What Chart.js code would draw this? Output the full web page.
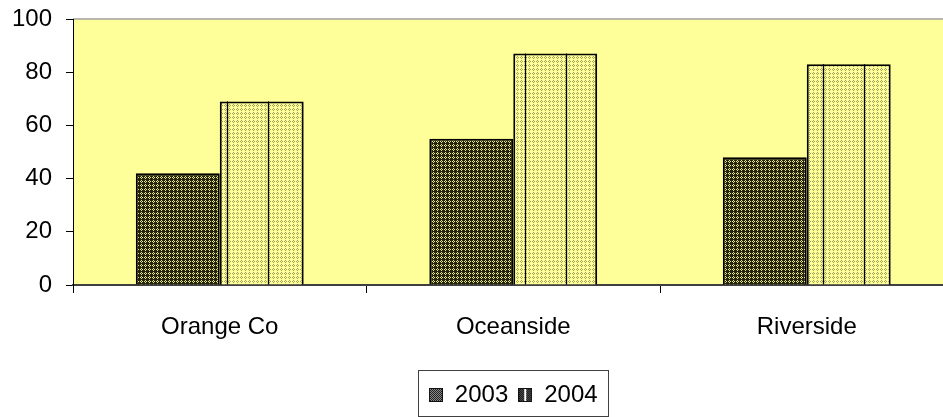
<!DOCTYPE html>
<html>
<head>
<meta charset="utf-8">
<script src="https://cdn.jsdelivr.net/npm/chart.js@4/dist/chart.umd.min.js"></script>
<style>
  html, body { margin: 0; padding: 0; background: #fff; overflow: hidden; width: 943px; height: 417px; }
  #wrap { width: 955px; height: 417px; }
</style>
</head>
<body>
<div id="wrap"><canvas id="c" width="955" height="417"></canvas></div>
<script>
// Categories and values per year
const sites = ['Orange Co', 'Oceanside', 'Riverside'];
const values2003 = [42, 55, 48];
const values2004 = [69, 87, 83];
const seriesNames = ['2003', '2004'];
const yTickValues = [0, 20, 40, 60, 80, 100];

// Styling
const FONT = { family: '"Liberation Sans", Arial, sans-serif', size: 24 };
const PLOT_BG = '#ffff99';
const stripeOffsets = [7.5, 12, 16];   // px from left edge of each 2004 bar
const stripeGap = 41;

function tile(size, base, dot, cells) {
  const cv = document.createElement('canvas');
  cv.width = size; cv.height = size;
  const g = cv.getContext('2d');
  g.fillStyle = base; g.fillRect(0, 0, size, size);
  g.fillStyle = dot;
  cells.forEach(([x, y]) => g.fillRect(x, y, 1, 1));
  return cv;
}
const ctx = document.getElementById('c').getContext('2d');
const fill2003 = ctx.createPattern(tile(4, '#24240f', '#e8e888', [[1, 0], [0, 1], [2, 1], [1, 2]]), 'repeat');
const fill2004 = ctx.createPattern(tile(4, '#ffff99', '#a3a35e', [[1, 0], [0, 1], [2, 1], [1, 2]]), 'repeat');

// Legend swatches
function swatch(kind) {
  const cv = document.createElement('canvas');
  cv.width = 14; cv.height = 14;
  const g = cv.getContext('2d');
  g.fillStyle = '#111'; g.fillRect(0, 0, 14, 14);
  for (let y = 1; y < 13; y++) for (let x = 1; x < 13; x++) {
    if ((x + y) % 2 === 0) { g.fillStyle = kind === 0 ? '#9a9a9a' : '#555'; g.fillRect(x, y, 1, 1); }
  }
  if (kind === 1) { g.fillStyle = '#fff'; g.fillRect(6, 1, 2, 12); }
  return cv;
}
const swatches = [swatch(0), swatch(1)];

const plotArea = {
  id: 'plotArea',
  beforeDraw(chart) {
    const a = chart.chartArea, c = chart.ctx;
    c.save();
    c.fillStyle = PLOT_BG;
    c.fillRect(a.left, a.top, a.right - a.left, a.bottom - a.top);
    c.strokeStyle = '#a0a0a0'; c.lineWidth = 1.5;
    c.beginPath(); c.moveTo(a.left, a.top); c.lineTo(a.right, a.top); c.stroke();
    c.restore();
  }
};

const barStripes = {
  id: 'barStripes',
  afterDatasetsDraw(chart) {
    const c = chart.ctx;
    const meta = chart.getDatasetMeta(1);
    c.save();
    c.strokeStyle = '#000'; c.lineWidth = 1.3;
    meta.data.forEach((bar, i) => {
      const left = bar.x - bar.width / 2;
      [stripeOffsets[i], stripeOffsets[i] + stripeGap].forEach(off => {
        const x = Math.round(left + off) + 0.5;
        c.beginPath(); c.moveTo(x, bar.y); c.lineTo(x, bar.base); c.stroke();
      });
    });
    c.restore();
  }
};

const legendFrame = {
  id: 'legendFrame',
  afterDraw(chart) {
    const hb = chart.legend.legendHitBoxes;
    if (!hb || !hb.length) return;
    const l = Math.min(...hb.map(b => b.left)) - 11;
    const r = Math.max(...hb.map(b => b.left + b.width)) + 10;
    const t = Math.min(...hb.map(b => b.top)) - 13;
    const c = chart.ctx;
    c.save();
    c.strokeStyle = '#404040'; c.lineWidth = 1;
    c.strokeRect(Math.round(l) + 0.5, Math.round(t) + 0.5, Math.round(r - l), 417 - Math.round(t) - 1);
    c.restore();
  }
};

new Chart(ctx, {
  type: 'bar',
  data: {
    labels: sites,
    datasets: [
      { label: seriesNames[0], data: values2003, backgroundColor: fill2003, borderColor: '#000', borderWidth: 2 },
      { label: seriesNames[1], data: values2004, backgroundColor: fill2004, borderColor: '#000', borderWidth: 2 }
    ]
  },
  options: {
    responsive: false,
    animation: false,
    events: [],
    categoryPercentage: 0.572,
    barPercentage: 1,
    layout: { padding: { top: 19, right: 1.5, left: 0, bottom: 0 } },
    plugins: {
      tooltip: { enabled: false },
      legend: {
        position: 'bottom',
        fullSize: false,
        labels: {
          font: FONT, color: '#000',
          usePointStyle: true, boxWidth: 14, boxHeight: 14, padding: 10,
          generateLabels: () => seriesNames.map((n, i) => ({
            text: n, pointStyle: swatches[i], datasetIndex: i,
            fillStyle: 'transparent', strokeStyle: 'transparent', lineWidth: 0, fontColor: '#000'
          }))
        }
      }
    },
    scales: {
      x: {
        grid: { drawOnChartArea: false, offset: true, tickLength: 8, color: '#000' },
        border: { color: '#404040', width: 2 },
        ticks: { font: FONT, color: '#000', padding: 20, maxRotation: 0 },
        afterFit(scale) {
          const lh = scale.chart.legend && scale.chart.legend.height;
          scale.height = 417 - 285 - (lh > 0 ? lh : 44);
        }
      },
      y: {
        min: 0, max: 100,
        afterBuildTicks(scale) { scale.ticks = yTickValues.map(v => ({ value: v })); },
        grid: { drawOnChartArea: false, tickLength: 7, color: '#000' },
        border: { color: '#000', width: 1 },
        ticks: { font: FONT, color: '#000', padding: 14 },
        afterFit(scale) { scale.width = 73; scale.paddingTop = 0; scale.paddingBottom = 0; }
      }
    }
  },
  plugins: [plotArea, barStripes, legendFrame]
});
</script>
</body>
</html>
